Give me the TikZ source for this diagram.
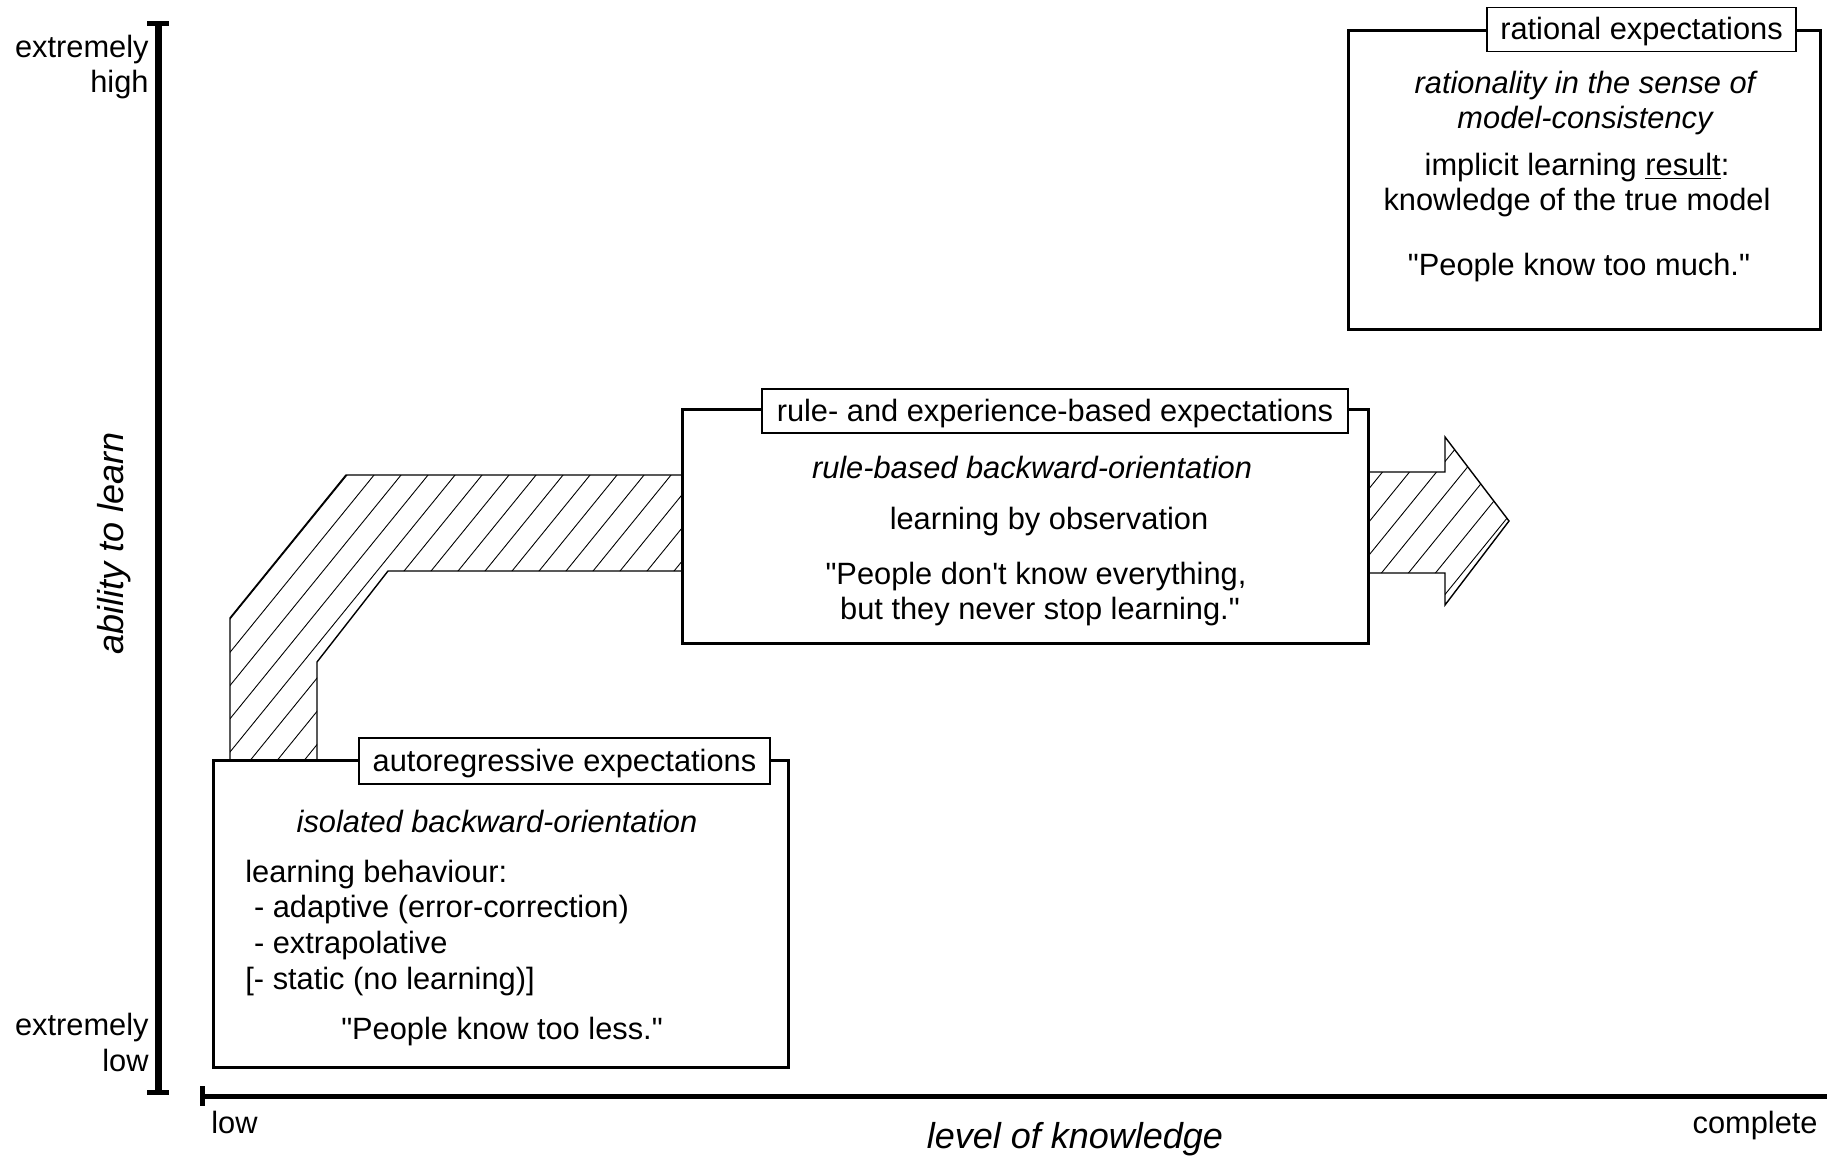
\documentclass[tikz,border=0pt]{standalone}
\usepackage{fontspec}
\setmainfont{Liberation Sans}[Ligatures=TeXOff]
\begin{document}
\begin{tikzpicture}[x=0.5pt,y=-0.5pt,
 every node/.style={font=\fontsize{15.4}{17.6}\selectfont, inner sep=0pt},
 txt/.style={anchor=base},
 itxt/.style={anchor=base, font=\itshape\fontsize{15.4}{17.6}\selectfont},
 frame/.style={draw=black, line width=1.5pt, fill=white},
 titlebox/.style={draw=black, line width=0.75pt, fill=white, text height=13pt, text depth=3pt},
 yaxis/.style={line width=3.5pt},
 xaxis/.style={line width=2.5pt},
 band/.style={draw=black, line width=0.7pt},
 hatch/.style={line width=0.45pt},
 big/.style={font=\itshape\fontsize{18}{20}\selectfont}]

\useasboundingbox (0,0) rectangle (1827,1157);

% ---- axes ----
\coordinate (ytop) at (158,23);
\coordinate (ybot) at (158,1092);
\draw[yaxis] (ytop) -- (ybot);
\draw[xaxis] (147,23) -- (169,23);
\draw[xaxis] (147,1092) -- (169,1092);
\coordinate (xl) at (202,1096);
\coordinate (xr) at (1827,1096);
\draw[xaxis] (xl) -- (xr);
\draw[xaxis] (202,1086) -- (202,1106);

\node[anchor=base east] (eh1) at (149,57) {extremely};
\node[anchor=base east] (eh2) at (149,92) {high};
\node[anchor=base east] (el1) at (149,1035) {extremely};
\node[anchor=base east] (el2) at (149,1071) {low};
\node[anchor=base west] (xlow) at (211,1133) {low};
\node[anchor=base east] (xcomp) at (1818,1133) {complete};
\node[big, anchor=base] (xlab) at (1075,1148) {level of knowledge};
\node[big, rotate=90] (ylab) at (114,543) {ability to learn};

% ---- hatched band ----
\begin{scope}
\clip (230,760) -- (230,618) -- (346,475) -- (682,475) -- (682,571) -- (388,571) -- (317,662) -- (317,760) -- cycle;
\foreach \k in {-700,-673,...,1000} \draw[hatch] (\k,800) -- ++(650,-800);
\end{scope}
\draw[band] (682,475) -- (346,475) -- (230,618) -- (230,760) (317,760) -- (317,662) -- (388,571) -- (682,571);

% ---- hatched arrow ----
\begin{scope}
\clip (1368,472) -- (1445,472) -- (1445,437) -- (1509,521) -- (1445,605) -- (1445,573) -- (1368,573) -- cycle;
\foreach \k in {900,927,...,1600} \draw[hatch] (\k,800) -- ++(650,-800);
\end{scope}
\draw[band] (1368,472) -- (1445,472) -- (1445,437) -- (1509,521) -- (1445,605) -- (1445,573) -- (1368,573);

% ---- box 1 ----
\node[frame, minimum width=287.5pt, minimum height=153.5pt] (b1) at (500.5,913.5) {};
\node[titlebox, minimum width=205.5pt, minimum height=23pt] (t1) at (564.5,761) {autoregressive expectations};
\node[itxt] (b1a) at (497,832) {isolated backward-orientation};
\node[anchor=base west] (b1b) at (245,882) {learning behaviour:};
\node[anchor=base west] (b1c) at (245,917) {\hspace{0.28em}- adaptive (error-correction)};
\node[anchor=base west] (b1d) at (245,953) {\hspace{0.28em}- extrapolative};
\node[anchor=base west] (b1e) at (245,989) {[- static (no learning)]};
\node[txt] (b1f) at (502,1039) {"People know too less."};

% ---- box 2 ----
\node[frame, minimum width=343pt, minimum height=117pt] (b2) at (1025,526) {};
\node[titlebox, minimum width=293pt, minimum height=22pt] (t2) at (1055,411) {rule- and experience-based expectations};
\node[itxt] (b2a) at (1032,478) {rule-based backward-orientation};
\node[txt] (b2b) at (1049,529) {learning by observation};
\node[txt] (b2c) at (1036,584) {"People don't know everything,};
\node[txt] (b2d) at (1040,619) {but they never stop learning."};

% ---- box 3 ----
\node[frame, minimum width=236pt, minimum height=149.5pt] (b3) at (1584,179.5) {};
\node[titlebox, minimum width=154.5pt, minimum height=22pt] (t3) at (1641.5,29.5) {rational expectations};
\node[itxt] (b3a) at (1585,93) {rationality in the sense of};
\node[itxt] (b3b) at (1585,128) {model-consistency};
\node[txt] (b3c) at (1577,175) {implicit learning \underline{result}:};
\node[txt] (b3d) at (1577,210) {knowledge of the true model};
\node[txt] (b3e) at (1579,275) {"People know too much."};
\end{tikzpicture}
\end{document}
